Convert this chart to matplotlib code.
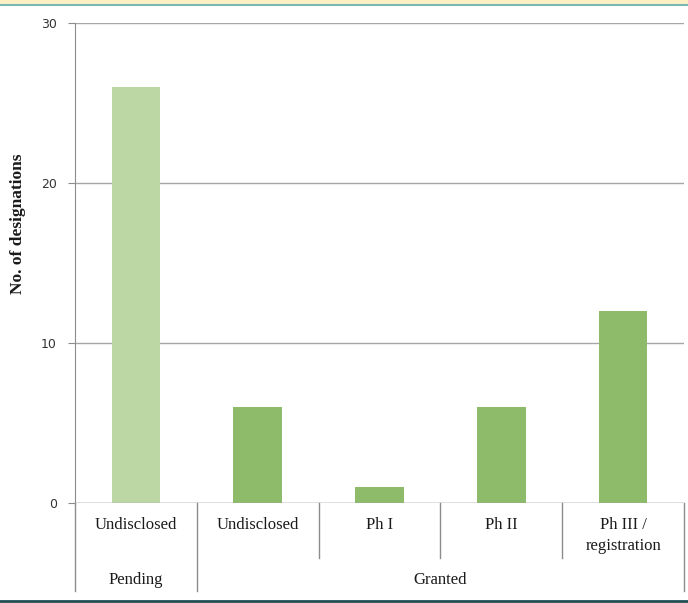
import matplotlib
matplotlib.use("Agg")
import matplotlib.pyplot as plt
import matplotlib.transforms as mtransforms
from matplotlib.lines import Line2D
from matplotlib.patches import Rectangle

categories = ["Undisclosed", "Undisclosed", "Ph I", "Ph II", "Ph III /\nregistration"]
groups = ["Pending", "Granted"]
group_sizes = [1, 4]
values = [26, 6, 1, 6, 12]
bar_colors = ["#bcd7a4", "#8dbb69", "#8dbb69", "#8dbb69", "#8dbb69"]
y_ticks = [0, 10, 20, 30]

W, H = 688, 603
fig = plt.figure(figsize=(W / 100, H / 100), dpi=100)

# decorative top band and bottom rule
fig.add_artist(Rectangle((0, 1 - 4 / H), 1, 4 / H, transform=fig.transFigure,
                         facecolor="#fdf0c4", edgecolor="none"))
fig.add_artist(Line2D([0, 1], [1 - 5 / H, 1 - 5 / H], transform=fig.transFigure,
                      color="#7ab8b4", lw=1.5))
fig.add_artist(Line2D([0, 1], [2.5 / H, 2.5 / H], transform=fig.transFigure,
                      color="#1f4e55", lw=2))

left, right, top, bottom = 75, 684, 23, 503
ax = fig.add_axes([left / W, 1 - bottom / H, (right - left) / W, (bottom - top) / H])

x = list(range(len(categories)))
ax.bar(x, values, width=0.40, color=bar_colors, zorder=3)

ax.set_xlim(-0.5, len(categories) - 0.5)
ax.set_ylim(0, 30)
ax.set_yticks(y_ticks)
ax.set_yticklabels([str(t) for t in y_ticks], fontsize=9, color="#333333",
                   family="DejaVu Sans")
ax.tick_params(axis="y", length=5, color="#8c8c8c", pad=8)
ax.tick_params(axis="x", length=0)
ax.set_xticks([])
ax.yaxis.grid(True, color="#a6a6a6", lw=1, zorder=0)

for s in ["top", "right", "bottom"]:
    ax.spines[s].set_visible(False)
ax.spines["left"].set_color("#8c8c8c")
ax.axhline(0, color="#a6a6a6", lw=1, zorder=4)

# category labels and separators below the axis
trans = mtransforms.blended_transform_factory(ax.transData, fig.transFigure)
def fy(py):
    return 1 - py / H

for i, lab in enumerate(categories):
    ax.text(i, fy(517), lab, transform=trans, ha="center", va="top",
            fontsize=12, family="Liberation Serif", color="#1a1a1a",
            linespacing=1.45)

# group boundaries
bounds = [-0.5]
for n in group_sizes:
    bounds.append(bounds[-1] + n)
for b in bounds:
    fig.add_artist(Line2D([b, b], [fy(503), fy(591)], transform=trans,
                          color="#8c8c8c", lw=1, clip_on=False))
# inner category separators
for i in range(len(categories) - 1):
    b = i + 0.5
    if b in bounds:
        continue
    fig.add_artist(Line2D([b, b], [fy(503), fy(558)], transform=trans,
                          color="#8c8c8c", lw=1, clip_on=False))

for g, start, n in zip(groups, bounds[:-1], group_sizes):
    ax.text(start + n / 2, fy(572), g, transform=trans, ha="center", va="top",
            fontsize=12, family="Liberation Serif", color="#1a1a1a")

fig.text(18 / W, fy(224), "No. of designations", rotation=90, ha="center",
         va="center", fontsize=12.5, fontweight="bold", family="Liberation Serif",
         color="#1a1a1a")

fig.savefig("out.png", dpi=100)
